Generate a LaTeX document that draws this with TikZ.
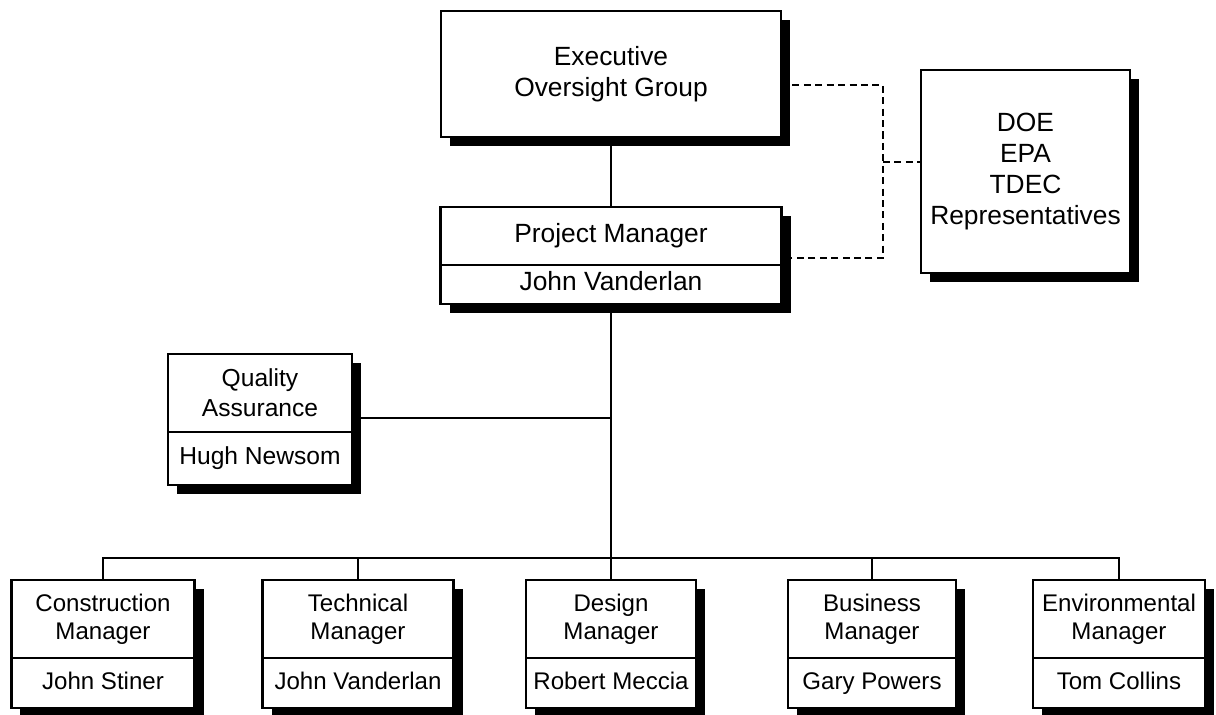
\documentclass[tikz,border=0pt]{standalone}
\usepackage{fontspec}
\setmainfont{Liberation Sans}
\usetikzlibrary{positioning,shadows}

\tikzset{
  box/.style={draw, line width=1.2pt, fill=white, outer sep=0pt, inner sep=1pt, align=center,
    drop shadow={shadow xshift=0.18cm, shadow yshift=-0.18cm, fill=black, opacity=1}},
  namebox/.style={box, text height=0.8em, text depth=0.08em},
  link/.style={line width=1.2pt},
  liaison/.style={line width=1.4pt, dash pattern=on 4pt off 2.5pt},
  bigfont/.style={font=\fontsize{15}{17.6}\selectfont},
  midfont/.style={font=\fontsize{14}{17}\selectfont},
  smallfont/.style={font=\fontsize{13.7}{16}\selectfont},
}

\begin{document}
\begin{tikzpicture}
  \useasboundingbox (0, 0) rectangle (24.32, 14.28);

  % --- executive oversight group ---
  \node[box, bigfont, anchor=north, minimum width=6.80cm, minimum height=2.52cm]
    (exec) at (12.22, 14.06) {Executive\\Oversight Group};

  % --- project manager ---
  \node[box, bigfont, anchor=north, minimum width=6.82cm, minimum height=1.16cm]
    (pmt) at (12.22, 10.14) {Project Manager};
  \node[namebox, bigfont, below=0pt of pmt, minimum width=6.82cm, minimum height=0.78cm]
    (pmn) {John Vanderlan};

  % --- agencies ---
  \node[box, bigfont, minimum width=4.18cm, minimum height=4.06cm]
    (doe) at (20.51, 10.85) {DOE\\EPA\\TDEC\\Representatives};

  % --- quality assurance ---
  \node[box, midfont, anchor=north, minimum width=3.68cm, minimum height=1.56cm]
    (qa) at (5.20, 7.20) {Quality\\Assurance};
  \node[namebox, midfont, below=0pt of qa, minimum width=3.68cm, minimum height=1.06cm]
    (qan) {Hugh Newsom};

  % --- line managers ---
  \node[box, smallfont, anchor=north, minimum width=3.66cm, minimum height=1.56cm]
    (cm) at (2.06, 2.68) {Construction\\Manager};
  \node[namebox, smallfont, below=0pt of cm, minimum width=3.66cm, minimum height=1.00cm]
    (cmn) {John Stiner};

  \node[box, smallfont, anchor=north, minimum width=3.82cm, minimum height=1.56cm]
    (tm) at (7.16, 2.68) {Technical\\Manager};
  \node[namebox, smallfont, below=0pt of tm, minimum width=3.82cm, minimum height=1.00cm]
    (tmn) {John Vanderlan};

  \node[box, smallfont, anchor=north, minimum width=3.40cm, minimum height=1.56cm]
    (dm) at (12.22, 2.68) {Design\\Manager};
  \node[namebox, smallfont, below=0pt of dm, minimum width=3.40cm, minimum height=1.00cm]
    (dmn) {Robert Meccia};

  \node[box, smallfont, anchor=north, minimum width=3.36cm, minimum height=1.56cm]
    (bm) at (17.44, 2.68) {Business\\Manager};
  \node[namebox, smallfont, below=0pt of bm, minimum width=3.36cm, minimum height=1.00cm]
    (bmn) {Gary Powers};

  \node[box, smallfont, anchor=north, minimum width=3.44cm, minimum height=1.56cm]
    (em) at (22.38, 2.68) {Environmental\\Manager};
  \node[namebox, smallfont, below=0pt of em, minimum width=3.44cm, minimum height=1.00cm]
    (emn) {Tom Collins};

  % --- junctions ---
  \coordinate (dtop) at (17.66, 12.58);
  \coordinate (dmid) at (17.66, 11.04);
  \coordinate (dbot) at (17.66, 9.12);
  \coordinate (qaj) at (12.22, 5.92);
  \coordinate (trunk) at (12.22, 3.12);

  % --- reporting lines ---
  \draw[link] (exec) -- (pmt);
  \draw[link] (pmn.south) -- (trunk);
  \draw[link] (qa.east |- qaj) -- (qaj);
  \foreach \m in {cm, tm, dm, bm, em}
    \draw[link] (trunk) -| (\m.north);

  % --- liaison (dashed) ---
  \draw[liaison] (exec.east |- dtop) -- (dtop) -- (dbot) -- (pmt.east |- dbot);
  \draw[liaison] (dmid) -- (doe.west |- dmid);

\end{tikzpicture}
\end{document}
